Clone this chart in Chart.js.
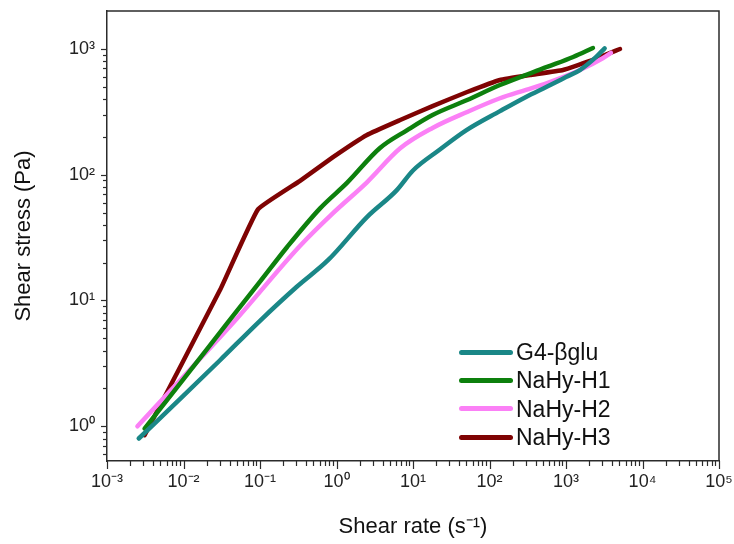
<!DOCTYPE html>
<html><head><meta charset="utf-8">
<script src="https://cdn.jsdelivr.net/npm/chart.js@4.4.1/dist/chart.umd.min.js"></script>
<style>
html,body{margin:0;padding:0;background:#fff;}
#wrap{position:relative;width:734px;height:544px;overflow:hidden;}
canvas{display:block;}
.lgline{position:absolute;height:5px;border-radius:3px;}
.lgtext{position:absolute;font-family:"Liberation Sans",Arial,sans-serif;font-size:23px;line-height:26px;color:#111;white-space:nowrap;}
</style></head><body>
<div id="wrap"><canvas id="c" width="734" height="544"></canvas><div id="legend"></div></div>
<script>
// ---- data ----
const seriesNames = ['G4-βglu', 'NaHy-H1', 'NaHy-H2', 'NaHy-H3'];
const seriesColors = ['#1a8787', '#0d800d', '#fb80f6', '#7f0303'];

const g4Rate   = [0.0026, 0.01, 0.03, 0.1, 0.3, 0.78, 2.5, 6.1, 10, 22, 50, 137, 300, 560, 1000, 1520, 2500, 3200];
const g4Stress = [0.80, 1.75, 3.35, 6.9, 12.8, 21, 46, 75, 108, 157, 226, 320, 415, 500, 597, 679, 867, 1010];

const h1Rate   = [0.0031, 0.01, 0.038, 0.1, 0.225, 0.61, 1.37, 3.7, 8.4, 18, 51, 137, 565, 1240, 2250];
const h1Stress = [0.96, 2.37, 6.7, 14.1, 26.5, 54, 86, 163, 226, 298, 392, 516, 718, 862, 1016];

const h2Rate   = [0.0025, 0.011, 0.05, 0.33, 0.9, 2.5, 6.8, 18, 51, 137, 300, 565, 1520, 3060, 3870];
const h2Stress = [1.0, 2.64, 7.2, 27, 49.5, 87, 162, 235, 315, 405, 472, 535, 679, 847, 928];

const h3Rate   = [0.0031, 0.03, 0.094, 0.33, 0.9, 2.5, 6.8, 18, 51, 137, 338, 914, 2250, 5080];
const h3Stress = [0.85, 12.1, 53, 89, 138, 207, 272, 351, 454, 566, 620, 679, 816, 998];

const xMajor = [1e-3, 1e-2, 1e-1, 1, 10, 100, 1e3, 1e4, 1e5];
const xTickLabels = ['10⁻³', '10⁻²', '10⁻¹', '10⁰', '10¹', '10²', '10³', '10⁴', '10⁵'];
const yMajor = [1, 10, 100, 1000];
const yTickLabels = ['10⁰', '10¹', '10²', '10³'];
const xMin = 1e-3, xMax = 1e5, yMin = 0.53, yMax = 2000;
const xTitle = 'Shear rate (s⁻¹)';
const yTitle = 'Shear stress (Pa)';

// ---- helpers ----
function pairs(xs, ys) { return xs.map((v, i) => ({x: v, y: ys[i]})); }
function logTicks(min, max, majors) {
  const out = [];
  const e0 = Math.floor(Math.log10(min)), e1 = Math.ceil(Math.log10(max));
  for (let e = e0; e <= e1; e++) {
    for (let m = 1; m <= 9; m++) {
      const v = parseFloat((m * Math.pow(10, e)).toPrecision(6));
      if (v >= min * 0.9999 && v <= max * 1.0001) {
        const isMajor = majors.some(mv => Math.abs(mv - v) / mv < 1e-6);
        if (isMajor || (v > min * 1.0001 && v < max * 0.9999)) out.push({value: v, major: isMajor});
      }
    }
  }
  return out;
}
function labelFor(v, majors, labels) {
  const i = majors.findIndex(mv => Math.abs(mv - v) / mv < 1e-6);
  return i >= 0 ? labels[i] : '';
}

const FONT = '"Liberation Sans", Arial, sans-serif';

const tickPlugin = {
  id: 'tickMarks',
  afterDraw(chart) {
    const {ctx, chartArea: a, scales} = chart;
    const sx = scales.x, sy = scales.y;
    ctx.save();
    ctx.strokeStyle = '#2b2b2b';
    ctx.lineWidth = 1.5;
    ctx.beginPath();
    ctx.moveTo(a.left, a.top); ctx.lineTo(a.right, a.top); ctx.lineTo(a.right, a.bottom);
    ctx.stroke();
    ctx.lineWidth = 1.2;
    sx.ticks.forEach(t => {
      const major = xMajor.some(mv => Math.abs(mv - t.value) / mv < 1e-6);
      const px = Math.round(sx.getPixelForValue(t.value)) + 0.5;
      ctx.beginPath(); ctx.moveTo(px, a.bottom); ctx.lineTo(px, a.bottom + (major ? 8 : 5)); ctx.stroke();
    });
    sy.ticks.forEach(t => {
      const major = yMajor.some(mv => Math.abs(mv - t.value) / mv < 1e-6);
      const py = Math.round(sy.getPixelForValue(t.value)) + 0.5;
      ctx.beginPath(); ctx.moveTo(a.left, py); ctx.lineTo(a.left - (major ? 6 : 4), py); ctx.stroke();
    });
    ctx.restore();
  }
};

const rates = [g4Rate, h1Rate, h2Rate, h3Rate];
const stresses = [g4Stress, h1Stress, h2Stress, h3Stress];

new Chart(document.getElementById('c'), {
  type: 'line',
  data: {
    datasets: seriesNames.map((name, i) => ({
      label: name,
      data: pairs(rates[i], stresses[i]),
      borderColor: seriesColors[i],
      backgroundColor: seriesColors[i],
      borderWidth: 4.5,
      pointRadius: 0,
      fill: false,
      borderCapStyle: 'round',
      borderJoinStyle: 'round',
      cubicInterpolationMode: i === 3 ? 'default' : 'monotone',
      tension: i === 3 ? 0.1 : 0
    }))
  },
  options: {
    responsive: false,
    animation: false,
    devicePixelRatio: 1,
    layout: {padding: {left: 0, right: 15, top: 11, bottom: 0}},
    plugins: {legend: {display: false}, tooltip: {enabled: false}},
    scales: {
      x: {
        type: 'logarithmic', min: xMin, max: xMax,
        afterBuildTicks: s => { s.ticks = logTicks(xMin, xMax, xMajor); },
        afterFit: s => { s.height = 83; s.paddingLeft = 0; s.paddingRight = 0; },
        grid: {display: false, drawTicks: false},
        border: {display: true, color: '#2b2b2b', width: 1.5},
        ticks: {
          autoSkip: false, maxRotation: 0, padding: 10, color: '#222',
          font: {family: FONT, size: 18},
          callback: v => labelFor(v, xMajor, xTickLabels)
        },
        title: {display: true, text: xTitle, color: '#111', font: {family: FONT, size: 22}, padding: {top: 4, bottom: 4}}
      },
      y: {
        type: 'logarithmic', min: yMin, max: yMax,
        afterBuildTicks: s => { s.ticks = logTicks(yMin, yMax, yMajor); },
        afterFit: s => { s.width = 107; s.paddingTop = 0; s.paddingBottom = 0; },
        grid: {display: false, drawTicks: false},
        border: {display: true, color: '#2b2b2b', width: 1.5},
        ticks: {
          autoSkip: false, padding: 12, color: '#222',
          font: {family: FONT, size: 18},
          callback: v => labelFor(v, yMajor, yTickLabels)
        },
        title: {display: true, text: yTitle, color: '#111', font: {family: FONT, size: 22}, padding: {top: 11, bottom: 4}}
      }
    }
  },
  plugins: [tickPlugin]
});

// ---- legend (HTML text) ----
const legendRowsY = [352, 380, 408.5, 437];
const lg = document.getElementById('legend');
seriesNames.forEach((name, i) => {
  const ln = document.createElement('div');
  ln.className = 'lgline';
  ln.style.left = '459px'; ln.style.width = '54px';
  ln.style.top = (legendRowsY[i] - 2.5) + 'px';
  ln.style.background = seriesColors[i];
  lg.appendChild(ln);
  const tx = document.createElement('div');
  tx.className = 'lgtext';
  tx.style.left = '516px';
  tx.style.top = (legendRowsY[i] - 13) + 'px';
  tx.textContent = name;
  lg.appendChild(tx);
});
</script>
</body></html>
